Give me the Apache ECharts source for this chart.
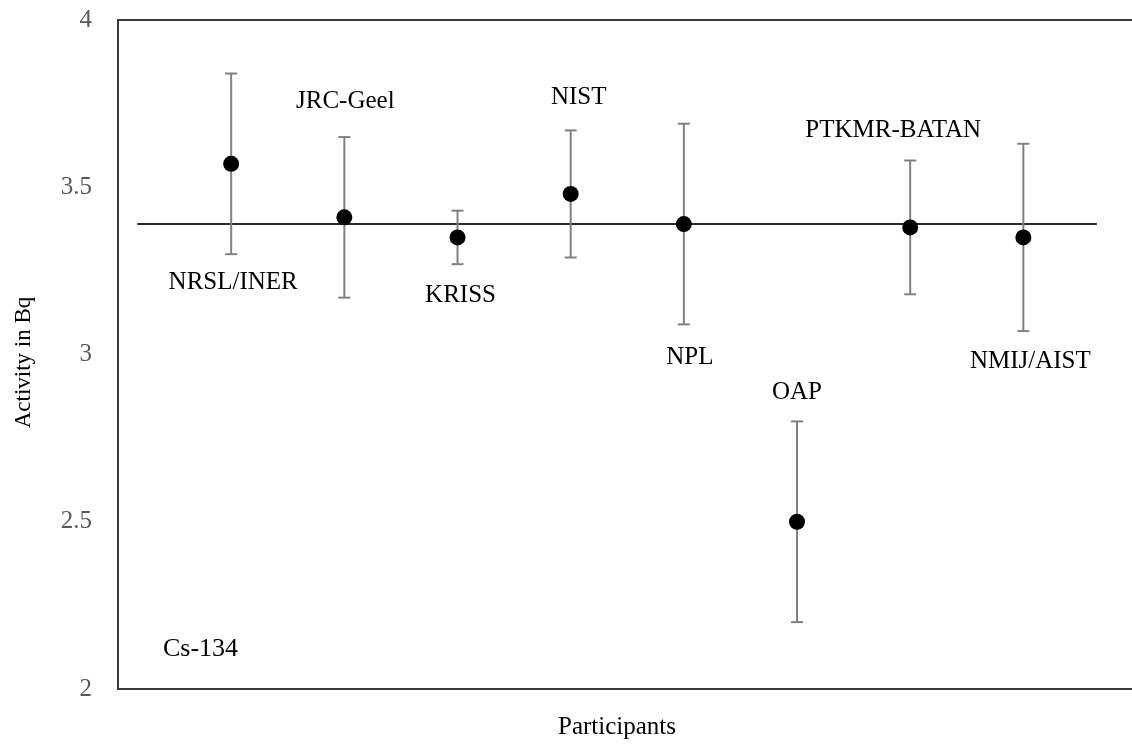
<!DOCTYPE html>
<html>
<head>
<meta charset="utf-8">
<script src="https://cdn.jsdelivr.net/npm/echarts@6/dist/echarts.min.js"></script>
<style>html,body{margin:0;padding:0;background:#fff;}#c{width:1132px;height:748px;}</style>
</head>
<body>
<div id="c"></div>
<script>
// ---- data ----
const participants = ['NRSL/INER','JRC-Geel','KRISS','NIST','NPL','OAP','PTKMR-BATAN','NMIJ/AIST'];
const positions = [1,2,3,4,5,6,7,8];
const activity = [3.57,3.41,3.35,3.48,3.39,2.50,3.38,3.35];
const uncertainty = [0.27,0.24,0.08,0.19,0.30,0.30,0.20,0.28];
const referenceValue = 3.39;
const referenceX = [0.17, 8.65];
const yTicks = [2, 2.5, 3, 3.5, 4];
const nuclide = 'Cs-134';
// label placement (pixels relative to each point)
const labelOffsets = [[2,119],[1,-116],[3,58],[8,-97],[6,133],[0,-129],[-17,-97],[7,124]];

const FONT = '"Liberation Serif","DejaVu Serif",serif';
const X_MAX = 8.96;

const chart = echarts.init(document.getElementById('c'));
const pts = positions.map((x,i)=>[x, activity[i], uncertainty[i]]);

const axisLineStyle = {color:'#3a3a3a',width:2};

chart.setOption({
  animation:false,
  backgroundColor:'#fff',
  title:{text:nuclide,left:158,top:631,textStyle:{fontFamily:FONT,fontSize:26,fontWeight:'normal',color:'#000'}},
  grid:{left:118,top:20,right:0,height:669,show:false},
  xAxis:[{type:'value',min:0,max:X_MAX,position:'bottom',
    name:'Participants',nameLocation:'middle',nameGap:26,
    nameTextStyle:{fontFamily:FONT,fontSize:25,color:'#000',padding:[0,16,0,0]},
    axisLine:{show:true,lineStyle:axisLineStyle},
    axisTick:{show:false},axisLabel:{show:false},splitLine:{show:false}},
   {type:'value',min:0,max:X_MAX,position:'top',
    axisLine:{show:true,lineStyle:axisLineStyle},
    axisTick:{show:false},axisLabel:{show:false},splitLine:{show:false}}],
  yAxis:{type:'value',min:yTicks[0],max:yTicks[yTicks.length-1],interval:0.5,
    name:'Activity in Bq',nameLocation:'middle',nameGap:83,nameRotate:90,
    nameTextStyle:{fontFamily:FONT,fontSize:23,color:'#000',padding:[0,16,0,0]},
    axisLine:{show:true,lineStyle:axisLineStyle},
    axisTick:{show:false},splitLine:{show:false},
    axisLabel:{margin:26,fontFamily:FONT,fontSize:25,color:'#595959',padding:[4,0,0,0],
      formatter:v=>yTicks.includes(v)?String(v):''}},
  series:[
    {type:'line',data:referenceX.map(x=>[x,referenceValue]),symbol:'none',
     lineStyle:{color:'#2a2a2a',width:2},z:2,silent:true},
    {type:'custom',z:3,
     renderItem:function(params,api){
       const x=api.value(0), y=api.value(1), u=api.value(2);
       const top=api.coord([x,y+u]), bot=api.coord([x,y-u]);
       const hw=6;
       const st={stroke:'#808080',lineWidth:2};
       return {type:'group',children:[
         {type:'line',shape:{x1:top[0],y1:top[1],x2:bot[0],y2:bot[1]},style:st},
         {type:'line',shape:{x1:top[0]-hw,y1:top[1],x2:top[0]+hw,y2:top[1]},style:st},
         {type:'line',shape:{x1:bot[0]-hw,y1:bot[1],x2:bot[0]+hw,y2:bot[1]},style:st}
       ]};
     },
     encode:{x:0,y:1},data:pts},
    {type:'scatter',z:4,symbol:'circle',symbolSize:16,itemStyle:{color:'#000',opacity:1},
     data:pts.map((p,i)=>({value:[p[0],p[1]],
       label:{show:true,position:'inside',offset:labelOffsets[i],formatter:participants[i],
         fontFamily:FONT,fontSize:25,color:'#000',opacity:1}}))}
  ]
});
</script>
</body>
</html>
